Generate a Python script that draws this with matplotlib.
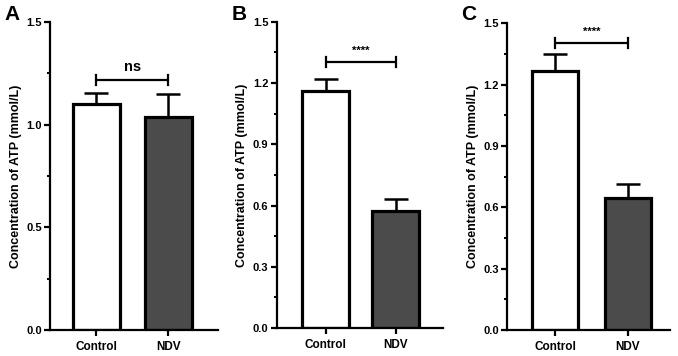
import matplotlib
matplotlib.use("Agg")
import matplotlib.pyplot as plt
import numpy as np

plt.rcParams["font.family"] = ["Liberation Sans", "DejaVu Sans"]
plt.rcParams["font.weight"] = "bold"

groups = ["Control", "NDV"]
panels = ["A", "B", "C"]

# mean and upper error (SD) for each panel
means_a = [1.10, 1.036]
errs_a = [0.056, 0.112]
means_b = [1.162, 0.574]
errs_b = [0.057, 0.058]
means_c = [1.268, 0.647]
errs_c = [0.080, 0.065]

sig_labels = ["ns", "****", "****"]
sig_heights = [1.217, 1.304, 1.402]

yticks_a = [0.0, 0.5, 1.0, 1.5]
yticks_bc = [0.0, 0.3, 0.6, 0.9, 1.2, 1.5]

colors = ["white", "#4b4b4b"]

fig = plt.figure(figsize=(6.78, 3.56), dpi=100)

# axes boxes in figure fraction
boxes = [
    [0.0737, 0.073, 0.2478, 0.865],
    [0.408, 0.0787, 0.2453, 0.860],
    [0.7478, 0.073, 0.2404, 0.8615],
]
xlims = [(-0.646, 1.69), (-0.70, 1.67), (-0.66, 1.58)]
widths = [0.65, 0.67, 0.63]

data = [(means_a, errs_a, yticks_a, 0.25),
        (means_b, errs_b, yticks_bc, 0.15),
        (means_c, errs_c, yticks_bc, 0.15)]

for i, (means, errs, yticks, minor) in enumerate(data):
    ax = fig.add_axes(boxes[i])
    x = np.arange(len(groups))
    ax.errorbar(x, means, yerr=[np.zeros(len(errs)), errs], fmt="none",
                ecolor="black", elinewidth=1.8, capsize=8.3, capthick=1.8, zorder=1)
    ax.bar(x, means, width=widths[i], color=colors, edgecolor="black",
           linewidth=2.3, zorder=2)

    ax.set_xlim(*xlims[i])
    ax.set_ylim(0, 1.5)
    ax.set_yticks(yticks)
    ax.set_yticklabels([f"{t:.1f}" for t in yticks])
    ax.set_yticks(np.arange(0, 1.5001, minor), minor=True)
    ax.set_xticks(x)
    ax.set_xticklabels(groups)

    for s in ["top", "right"]:
        ax.spines[s].set_visible(False)
    for s in ["left", "bottom"]:
        ax.spines[s].set_linewidth(1.6)
    ax.tick_params(axis="both", which="major", width=1.6, length=4,
                   labelsize=8, pad=2)
    ax.tick_params(axis="y", which="minor", width=1.4, length=2.5)
    ax.tick_params(axis="x", labelsize=8.5, pad=4)

    ax.set_ylabel("Concentration of ATP (mmol/L)", fontsize=9,
                  fontweight="bold", labelpad=3)

    # significance bracket
    h = sig_heights[i]
    ax.plot([0, 1], [h, h], color="black", lw=1.6, solid_capstyle="butt")
    ax.plot([0, 0], [h - 0.025, h + 0.025], color="black", lw=1.6)
    ax.plot([1, 1], [h - 0.025, h + 0.025], color="black", lw=1.6)
    fs = 10.5 if sig_labels[i] == "ns" else 8
    ax.text(0.5, h + 0.03, sig_labels[i], ha="center", va="bottom",
            fontsize=fs, fontweight="bold")

    fig.text(boxes[i][0] - 0.067, 0.985, panels[i], fontsize=15,
             fontweight="bold", ha="left", va="top")

plt.savefig("out.png", dpi=100)
